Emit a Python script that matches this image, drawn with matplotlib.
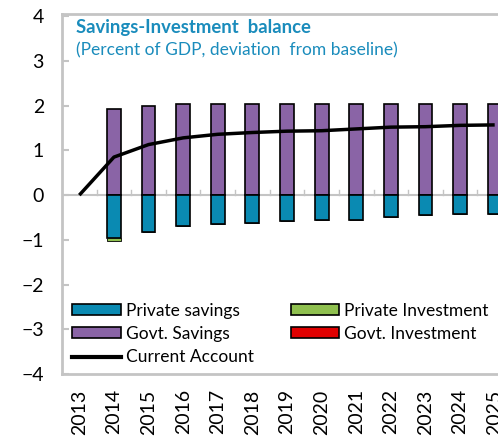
import matplotlib
matplotlib.use("Agg")
import matplotlib.pyplot as plt
from matplotlib.patches import Patch
from matplotlib.lines import Line2D
import numpy as np

plt.rcParams["font.family"] = ["Lato", "DejaVu Sans"]

years = [str(y) for y in range(2013, 2026)]
govt_savings = [0, 1.92, 2.0, 2.04, 2.04, 2.04, 2.04, 2.04, 2.04, 2.04, 2.04, 2.04, 2.04]
private_savings = [0, -0.95, -0.82, -0.70, -0.65, -0.62, -0.58, -0.55, -0.55, -0.50, -0.45, -0.42, -0.42]
private_investment = [0, -0.08, 0, 0, 0, 0, 0, 0, 0, 0, 0, 0, 0]
govt_investment = [0] * 13
current_account = [0, 0.85, 1.13, 1.28, 1.36, 1.40, 1.43, 1.44, 1.48, 1.52, 1.53, 1.56, 1.57]

teal = "#0a8ab2"
purple = "#8a64a6"
green = "#8fc04f"
red = "#e00000"
grey = "#c4c4c4"
title_col = "#1a8cbc"

fig = plt.figure(figsize=(4.98, 4.36), dpi=100)
ax = fig.add_axes([62 / 498, 1 - 374 / 436, 450 / 498, 360 / 436])

x = np.arange(len(years))
w = 0.4
ax.bar(x[1:], govt_savings[1:], w, color=purple, edgecolor="black", linewidth=1.2, zorder=2)
ax.bar(x[1:], private_savings[1:], w, color=teal, edgecolor="black", linewidth=1.2, zorder=2)
ax.bar(x[1:], private_investment[1:], w, bottom=private_savings[1:], color=green,
       edgecolor="black", linewidth=0.6, zorder=2)
ax.plot(x, current_account, color="black", lw=2.5, zorder=3, solid_capstyle="butt")

ax.axhline(0, color=grey, lw=1.5, zorder=1)
for b in x[:-1] + 0.5:
    ax.plot([b, b], [0, 0.12], color=grey, lw=1, zorder=1)

ax.set_xlim(-0.5, len(years) - 0.5)
ax.set_ylim(-4, 4.05)
ax.set_yticks(range(-4, 5))
ax.set_xticks(x)
ax.set_xticklabels(years, rotation=90, fontsize=14)
ax.tick_params(axis="y", direction="in", length=5, color=grey, width=1.5, labelsize=14, pad=13)
ax.tick_params(axis="x", length=0, pad=11)
for s in ["left", "top", "bottom"]:
    ax.spines[s].set_color(grey)
    ax.spines[s].set_linewidth(2)
ax.spines["right"].set_visible(False)

ax.text(0.03, 0.985, "Savings-Investment  balance", transform=ax.transAxes, fontsize=13.3,
        fontweight="bold", color=title_col, va="top")
ax.text(0.03, 0.922, "(Percent of GDP, deviation  from baseline)", transform=ax.transAxes,
        fontsize=12.5, color=title_col, va="top")

handles = [
    Patch(facecolor=teal, edgecolor="black", linewidth=1.2, label="Private savings"),
    Patch(facecolor=purple, edgecolor="black", linewidth=1.2, label="Govt. Savings"),
    Line2D([], [], color="black", lw=3, label="Current Account"),
    Patch(facecolor=green, edgecolor="black", linewidth=1.2, label="Private Investment"),
    Patch(facecolor=red, edgecolor="black", linewidth=1.2, label="Govt. Investment"),
]
ax.legend(handles=handles, ncol=2, loc="lower left", bbox_to_anchor=(0.0, -0.005),
          frameon=False, fontsize=12.5, handlelength=2.8, handleheight=0.6,
          handletextpad=0.3, columnspacing=2.1, labelspacing=0.42, borderaxespad=0.2)

fig.savefig("out.png", dpi=100)
